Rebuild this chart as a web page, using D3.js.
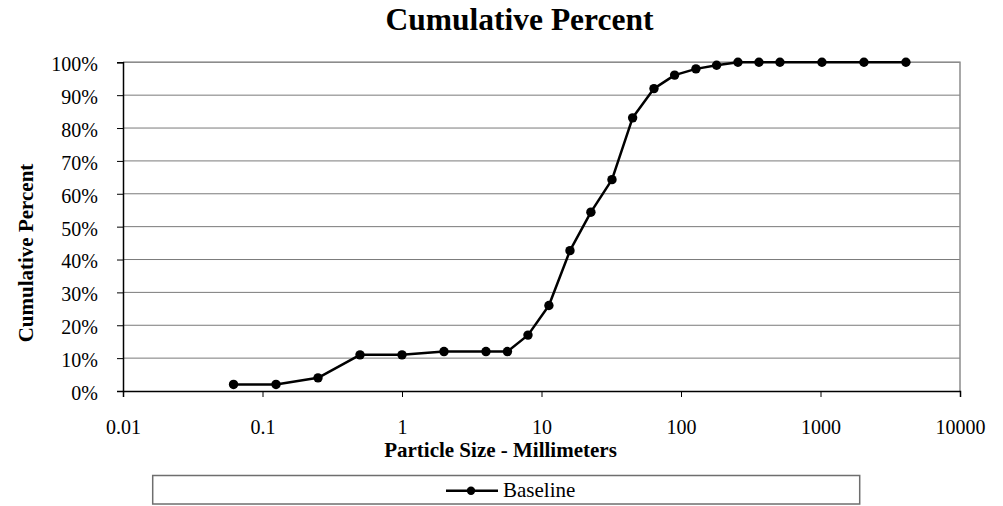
<!DOCTYPE html>
<html>
<head>
<meta charset="utf-8">
<script src="https://cdn.jsdelivr.net/npm/d3@7"></script>
<style>
  html, body { margin: 0; padding: 0; background: #fff; }
  svg { display: block; font-family: "Liberation Serif", "Times New Roman", serif; }
</style>
</head>
<body>
<svg id="chart" width="1003" height="506"></svg>
<script>
// Sieve size classes (mm) and cumulative percent finer
const sizes = [0.062, 0.125, 0.25, 0.5, 1, 2, 4, 5.7, 8, 11.3, 16, 22.6, 32, 45, 64, 90, 128, 180, 256, 362, 512, 1024, 2048, 4096];
const percents = [2, 2, 4, 11, 11, 12, 12, 12, 17, 26, 42.7, 54.4, 64.3, 83.1, 92, 96.1, 98, 99.1, 100, 100, 100, 100, 100, 100];
const xTicks = [0.01, 0.1, 1, 10, 100, 1000, 10000];
const yTicks = [0, 10, 20, 30, 40, 50, 60, 70, 80, 90, 100];
const seriesName = "Baseline";

const serif = "'Liberation Serif', 'Times New Roman', serif";
const svg = d3.select("#chart");
const plotLeft = 123, plotRight = 960, plotTop = 62.3, plotBottom = 391;

const x = d3.scaleLog().domain([0.01, 10000]).range([plotLeft, plotRight]);
const y = d3.scaleLinear().domain([0, 100]).range([plotBottom, plotTop]);

// Horizontal gridlines
svg.append("g")
  .selectAll("line")
  .data(yTicks.filter(d => d > 0))
  .join("line")
  .attr("x1", plotLeft).attr("x2", plotRight)
  .attr("y1", d => y(d)).attr("y2", d => y(d))
  .attr("stroke", "#7a7a7a").attr("stroke-width", 1);

// Plot frame: top and right in gray
svg.append("path")
  .attr("d", `M${plotLeft},${plotTop}H${plotRight}V${plotBottom}`)
  .attr("fill", "none").attr("stroke", "#8c8c8c").attr("stroke-width", 1.5);

// X axis
const xAxis = svg.append("g")
  .attr("transform", `translate(0,${plotBottom})`)
  .call(d3.axisBottom(x).tickValues(xTicks).tickFormat(d => String(d)).tickSize(6).tickPadding(23));
xAxis.attr("font-family", serif).attr("font-size", 20);
xAxis.select(".domain").attr("stroke", "#000").attr("stroke-width", 1.5);
xAxis.selectAll(".tick line").attr("stroke", "#000");
xAxis.selectAll("text").attr("fill", "#000");

// Y axis
const yAxis = svg.append("g")
  .attr("transform", `translate(${plotLeft},0)`)
  .call(d3.axisLeft(y).tickValues(yTicks).tickFormat(d => d + "%").tickSize(6).tickPadding(19));
yAxis.attr("font-family", serif).attr("font-size", 20);
yAxis.select(".domain").attr("stroke", "#000").attr("stroke-width", 1.5);
yAxis.selectAll(".tick line").attr("stroke", "#000");
yAxis.selectAll("text").attr("fill", "#000").attr("dy", "0.42em");

// Series line and markers
const pts = sizes.map((s, i) => ({ s, p: percents[i] }));
svg.append("path")
  .datum(pts)
  .attr("fill", "none")
  .attr("stroke", "#000")
  .attr("stroke-width", 2.5)
  .attr("stroke-linejoin", "round")
  .attr("d", d3.line().x(d => x(d.s)).y(d => y(d.p)));

svg.append("g")
  .selectAll("circle")
  .data(pts)
  .join("circle")
  .attr("cx", d => x(d.s))
  .attr("cy", d => y(d.p))
  .attr("r", 4.7)
  .attr("fill", "#000");

// Titles
svg.append("text")
  .attr("x", 519.5).attr("y", 29.5)
  .attr("text-anchor", "middle")
  .attr("font-size", 31.5).attr("font-weight", "bold")
  .text("Cumulative Percent");

svg.append("text")
  .attr("x", 500.5).attr("y", 457)
  .attr("text-anchor", "middle")
  .attr("font-size", 21).attr("font-weight", "bold")
  .text("Particle Size - Millimeters");

svg.append("text")
  .attr("transform", "translate(33,253) rotate(-90)")
  .attr("text-anchor", "middle")
  .attr("font-size", 21).attr("font-weight", "bold")
  .text("Cumulative Percent");

// Legend
const legend = svg.append("g");
legend.append("rect")
  .attr("x", 152.7).attr("y", 475.5)
  .attr("width", 707).attr("height", 28.5)
  .attr("fill", "#fff").attr("stroke", "#6e6e6e").attr("stroke-width", 1.5);
legend.append("line")
  .attr("x1", 446).attr("x2", 498).attr("y1", 490.7).attr("y2", 490.7)
  .attr("stroke", "#000").attr("stroke-width", 2.5);
legend.append("circle")
  .attr("cx", 471).attr("cy", 490.7).attr("r", 4.2).attr("fill", "#000");
legend.append("text")
  .attr("x", 503).attr("y", 497.3)
  .attr("font-size", 21)
  .text(seriesName);
</script>
</body>
</html>
